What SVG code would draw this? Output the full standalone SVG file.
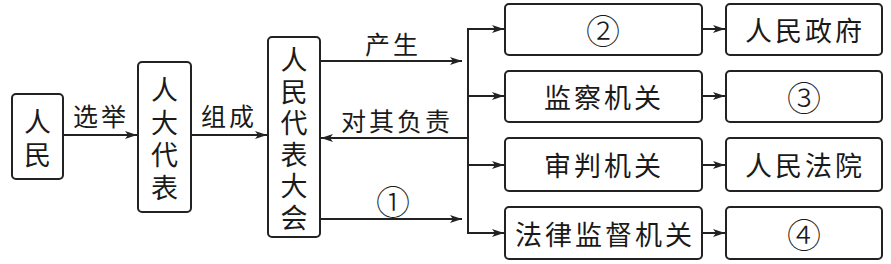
<svg xmlns="http://www.w3.org/2000/svg" width="891" height="264" viewBox="0 0 891 264">
<style>
.box{fill:#fff;stroke:#222;stroke-width:2}
.ln{fill:none;stroke:#222;stroke-width:2}
text{font-family:"Noto Sans CJK SC","Noto Sans CJK JP",sans-serif;fill:#1a1a1a;font-size:27px;text-anchor:middle;dominant-baseline:central}
.lb{font-size:25px;letter-spacing:3px}
.bx{letter-spacing:3px}
.num{font-size:34px;font-weight:300}
.vt{writing-mode:vertical-rl;text-orientation:upright}
</style>
<defs>
<marker id="ah" viewBox="0 0 12 8" refX="12" refY="4" markerWidth="12" markerHeight="8" markerUnits="userSpaceOnUse" orient="auto">
<path d="M0,0 L12,4 L0,8 L3,4 Z" fill="#222"/>
</marker>
</defs>
<rect width="891" height="264" fill="#fff"/>
<g id="connectors">
<line class="ln" x1="63" y1="135" x2="137" y2="135" marker-end="url(#ah)"/>
<line class="ln" x1="191" y1="135" x2="267" y2="135" marker-end="url(#ah)"/>
<line class="ln" x1="320" y1="61" x2="462" y2="61" marker-end="url(#ah)"/>
<line class="ln" x1="468" y1="138" x2="321" y2="138" marker-end="url(#ah)"/>
<line class="ln" x1="320" y1="219" x2="462" y2="219" marker-end="url(#ah)"/>
<line class="ln" x1="468" y1="28" x2="468" y2="234"/>
<line class="ln" x1="467" y1="29" x2="504" y2="29" marker-end="url(#ah)"/>
<line class="ln" x1="467" y1="96" x2="504" y2="96" marker-end="url(#ah)"/>
<line class="ln" x1="467" y1="165" x2="504" y2="165" marker-end="url(#ah)"/>
<line class="ln" x1="467" y1="233" x2="504" y2="233" marker-end="url(#ah)"/>
<line class="ln" x1="702" y1="29" x2="725" y2="29" marker-end="url(#ah)"/>
<line class="ln" x1="702" y1="96" x2="725" y2="96" marker-end="url(#ah)"/>
<line class="ln" x1="702" y1="165" x2="725" y2="165" marker-end="url(#ah)"/>
<line class="ln" x1="702" y1="233" x2="725" y2="233" marker-end="url(#ah)"/>
<text class="lb" x="101" y="115">选举</text>
<text class="lb" x="229" y="115">组成</text>
<text class="lb" x="393" y="43">产生</text>
<text class="lb" x="397" y="120">对其负责</text>
<text class="num" x="393" y="200">①</text>
</g>
<g id="renmin">
<rect class="box" x="12" y="94" width="51" height="85" rx="4"/>
<text class="vt" x="37.5" y="141.5" style="letter-spacing:6px">人民</text>
</g>
<g id="rendadaibiao">
<rect class="box" x="138" y="62" width="53" height="150" rx="4"/>
<text class="vt" x="164.5" y="141.5" style="letter-spacing:5.5px">人大代表</text>
</g>
<g id="renmindaibiaodahui">
<rect class="box" x="268" y="37" width="52" height="200" rx="4"/>
<text class="vt" x="294" y="141" style="letter-spacing:4.5px">人民代表大会</text>
</g>
<g id="n2">
<rect class="box" x="505" y="4" width="197" height="51" rx="4"/>
<text class="num" x="603" y="29">②</text>
</g>
<g id="jiancha">
<rect class="box" x="505" y="71" width="197" height="51" rx="4"/>
<text class="bx" x="604" y="96">监察机关</text>
</g>
<g id="shenpan">
<rect class="box" x="505" y="138" width="197" height="53" rx="4"/>
<text class="bx" x="604" y="164">审判机关</text>
</g>
<g id="falvjiandu">
<rect class="box" x="505" y="207" width="197" height="52" rx="4"/>
<text class="bx" x="605" y="233">法律监督机关</text>
</g>
<g id="zhengfu">
<rect class="box" x="726" y="4" width="156" height="51" rx="4"/>
<text class="bx" x="805" y="29">人民政府</text>
</g>
<g id="n3">
<rect class="box" x="726" y="71" width="156" height="51" rx="4"/>
<text class="num" x="804" y="96">③</text>
</g>
<g id="fayuan">
<rect class="box" x="726" y="138" width="156" height="53" rx="4"/>
<text class="bx" x="805" y="164">人民法院</text>
</g>
<g id="n4">
<rect class="box" x="726" y="207" width="156" height="52" rx="4"/>
<text class="num" x="804" y="233">④</text>
</g>
</svg>
